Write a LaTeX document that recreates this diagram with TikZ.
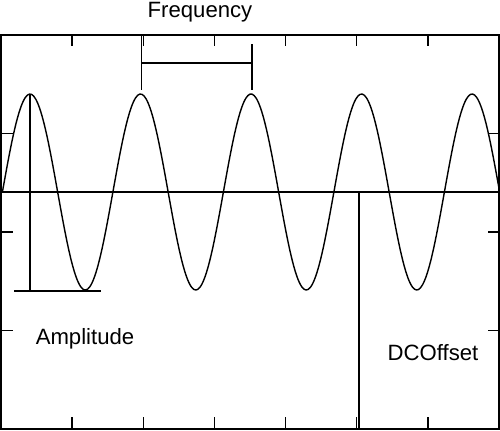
\documentclass[tikz,border=0pt]{standalone}
\usepackage{fontspec}
\setmainfont{Liberation Sans}
\begin{document}
\begin{tikzpicture}[x=0.02cm,y=-0.02cm,line width=0.8pt,font=\fontsize{12.6}{14}\selectfont]
  \useasboundingbox (0,0) rectangle (500,430);

  \coordinate (TL) at (1,35);
  \coordinate (BR) at (499,429);
  \draw (TL) rectangle (BR);

  % ticks
  \foreach \i in {1,...,6} {
    \draw (1+71.14*\i,35) -- ++(0,11);
    \draw (1+71.14*\i,429) -- ++(0,-12);
  }
  \foreach \j in {1,2,3} {
    \draw (1,35+98.5*\j) -- ++(12,0);
    \draw (499,35+98.5*\j) -- ++(-11,0);
  }

  % zero line and wave
  \coordinate (Z0) at (1,192);
  \coordinate (Z1) at (499,192);
  \draw (Z0) -- (Z1);
  \draw plot[domain=2.4:499.6,samples=240,smooth] (\x,{192-98*sin(3.2579*(\x-2.4))});

  % frequency
  \coordinate (F1) at (141.5,35);
  \coordinate (F2) at (141.5,90);
  \coordinate (F3) at (252,44);
  \coordinate (F4) at (252,90);
  \draw (F1) -- (F2);
  \draw (F3) -- (F4);
  \draw (141.5,63) -- (252,63);
  \node (freq) at (200,12) {Frequency};

  % amplitude
  \coordinate (A1) at (30,94);
  \coordinate (A2) at (30,291);
  \coordinate (A3) at (14,291);
  \coordinate (A4) at (101,291);
  \draw (A1) -- (A2);
  \draw (A3) -- (A4);
  \node (amp) at (85,339) {Amplitude};

  % dc offset
  \coordinate (D1) at (359,192);
  \coordinate (D2) at (359,429);
  \draw (D1) -- (D2);
  \node (dc) at (433,353) {DCOffset};
\end{tikzpicture}
\end{document}
